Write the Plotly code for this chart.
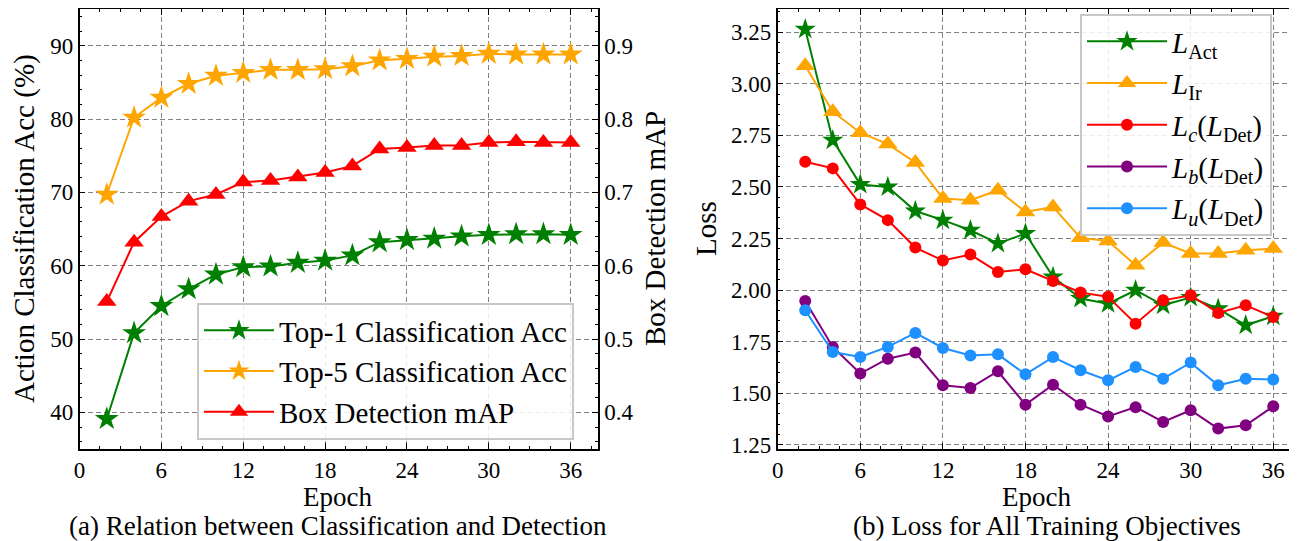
import plotly.graph_objects as go

# ---------------- data ----------------
epochs = [2, 4, 6, 8, 10, 12, 14, 16, 18, 20, 22, 24, 26, 28, 30, 32, 34, 36]

top1_acc = [39.1, 50.8, 54.5, 56.8, 58.8, 59.8, 59.9, 60.4, 60.7, 61.4,
            63.2, 63.5, 63.7, 64.0, 64.2, 64.3, 64.3, 64.2]
top5_acc = [69.7, 80.2, 82.9, 84.8, 85.9, 86.3, 86.7, 86.7, 86.8, 87.2,
            88.0, 88.2, 88.5, 88.6, 88.9, 88.8, 88.8, 88.8]
box_map = [0.551, 0.632, 0.667, 0.688, 0.697, 0.714, 0.716, 0.721, 0.727, 0.736,
           0.759, 0.761, 0.764, 0.764, 0.768, 0.769, 0.768, 0.768]

loss_act = [3.265, 2.727, 2.512, 2.500, 2.383, 2.339, 2.290, 2.226, 2.274, 2.064,
            1.959, 1.934, 1.999, 1.926, 1.964, 1.910, 1.829, 1.873]
loss_ir = [3.088, 2.865, 2.763, 2.708, 2.619, 2.444, 2.436, 2.484, 2.379, 2.403,
           2.253, 2.238, 2.120, 2.230, 2.177, 2.177, 2.193, 2.201]
loss_c = [2.622, 2.590, 2.415, 2.339, 2.206, 2.143, 2.172, 2.088, 2.101, 2.044,
          1.988, 1.967, 1.837, 1.950, 1.975, 1.889, 1.926, 1.869]
loss_b = [1.947, 1.724, 1.595, 1.667, 1.697, 1.538, 1.525, 1.606, 1.444, 1.541,
          1.444, 1.387, 1.432, 1.360, 1.417, 1.328, 1.344, 1.436]
loss_u = [1.902, 1.699, 1.675, 1.724, 1.792, 1.719, 1.683, 1.688, 1.591, 1.675,
          1.611, 1.562, 1.627, 1.570, 1.648, 1.538, 1.570, 1.566]

x_ticks = [0, 6, 12, 18, 24, 30, 36]
acc_ticks = [40, 50, 60, 70, 80, 90]
map_ticks = [0.4, 0.5, 0.6, 0.7, 0.8, 0.9]
loss_ticks = [1.25, 1.50, 1.75, 2.00, 2.25, 2.50, 2.75, 3.00, 3.25]

# ---------------- style ----------------
OFF = 8                      # page body margin
W, H = 1297 - OFF, 541 - OFF
FONT = "Liberation Serif"
TICK_FS = 23
TXT_FS = 29
BOTTOM_FS = 27
GREEN, ORANGE, RED, PURPLE, BLUE = "#008000", "#FFA500", "#FF0000", "#800080", "#1E90FF"
GRID = "#808080"

def px(x):
    return (x - OFF) / W

def py(y):
    return 1 - (y - OFF) / H

fig = go.Figure()

# left panel
fig.add_trace(go.Scatter(x=epochs, y=top1_acc, name="Top-1 Classification Acc",
                         mode="lines+markers", line=dict(color=GREEN, width=2),
                         marker=dict(symbol="star", size=18, color=GREEN),
                         xaxis="x", yaxis="y", legend="legend", legendgroup="a1"))
fig.add_trace(go.Scatter(x=epochs, y=top5_acc, name="Top-5 Classification Acc",
                         mode="lines+markers", line=dict(color=ORANGE, width=2),
                         marker=dict(symbol="star", size=18, color=ORANGE),
                         xaxis="x", yaxis="y", legend="legend", legendgroup="a2"))
fig.add_trace(go.Scatter(x=epochs, y=box_map, name="Box Detection mAP",
                         mode="lines+markers", line=dict(color=RED, width=2),
                         marker=dict(symbol="triangle-up", size=17, color=RED),
                         xaxis="x", yaxis="y2", legend="legend", legendgroup="a3"))

# right panel
fig.add_trace(go.Scatter(x=epochs, y=loss_act, name="<i>L</i><sub>Act</sub>",
                         mode="lines+markers", line=dict(color=GREEN, width=2),
                         marker=dict(symbol="star", size=16, color=GREEN),
                         xaxis="x2", yaxis="y3", legend="legend2", legendgroup="b1"))
fig.add_trace(go.Scatter(x=epochs, y=loss_ir, name="<i>L</i><sub>Ir</sub>",
                         mode="lines+markers", line=dict(color=ORANGE, width=2),
                         marker=dict(symbol="triangle-up", size=17, color=ORANGE),
                         xaxis="x2", yaxis="y3", legend="legend2", legendgroup="b2"))
fig.add_trace(go.Scatter(x=epochs, y=loss_c, name="<i>L<sub>c</sub></i>(<i>L</i><sub>Det</sub>)",
                         mode="lines+markers", line=dict(color=RED, width=2),
                         marker=dict(symbol="circle", size=12, color=RED),
                         xaxis="x2", yaxis="y3", legend="legend2", legendgroup="b3"))
fig.add_trace(go.Scatter(x=epochs, y=loss_b, name="<i>L<sub>b</sub></i>(<i>L</i><sub>Det</sub>)",
                         mode="lines+markers", line=dict(color=PURPLE, width=2),
                         marker=dict(symbol="circle", size=12, color=PURPLE),
                         xaxis="x2", yaxis="y3", legend="legend2", legendgroup="b4"))
fig.add_trace(go.Scatter(x=epochs, y=loss_u, name="<i>L<sub>u</sub></i>(<i>L</i><sub>Det</sub>)",
                         mode="lines+markers", line=dict(color=BLUE, width=2),
                         marker=dict(symbol="circle", size=12, color=BLUE),
                         xaxis="x2", yaxis="y3", legend="legend2", legendgroup="b5"))

tickfont = dict(family=FONT, size=TICK_FS, color="black")
common = dict(ticks="inside", ticklen=6, tickwidth=1.2, tickcolor="black",
              showline=True, linecolor="black", linewidth=1.5, zeroline=False,
              tickfont=tickfont, automargin=False)
grid = dict(showgrid=True, gridcolor=GRID, griddash="5px,3px", gridwidth=1)

def minor(d):
    return dict(dtick=d, tick0=0, ticks="inside", ticklen=3, tickcolor="black",
                tickwidth=1, showgrid=False)

LEFT_DOM = [px(79.5), px(598)]
RIGHT_DOM = [px(777.7), px(1295)]
Y_DOM = [py(449), py(9)]

fig.update_layout(
    width=W, height=H,
    margin=dict(l=0, r=0, t=0, b=0),
    paper_bgcolor="white", plot_bgcolor="white",
    font=dict(family=FONT, size=TXT_FS, color="black"),
    xaxis=dict(domain=LEFT_DOM, range=[0, 38], tickvals=x_ticks, mirror="ticks",
               anchor="y", minor=minor(1.5), **common, **grid),
    xaxis2=dict(domain=RIGHT_DOM, range=[0, 37.58], tickvals=x_ticks, mirror="ticks",
                anchor="y3", minor=minor(1.5), **common, **grid),
    yaxis=dict(domain=Y_DOM, range=[35, 95], tickvals=acc_ticks, mirror=False,
               anchor="x", minor=minor(2), **common, **grid),
    yaxis2=dict(range=[0.35, 0.95], tickvals=map_ticks, tickformat=".1f",
                overlaying="y", side="right", anchor="x", showgrid=False,
                minor=minor(0.02), **common),
    yaxis3=dict(domain=Y_DOM, range=[1.229, 3.363], tickvals=loss_ticks,
                tickformat=".2f", mirror="ticks", anchor="x2", minor=minor(0.05),
                **common, **grid),
    legend=dict(x=px(197), y=py(303), xanchor="left", yanchor="top",
                bgcolor="rgba(255,255,255,0.85)", bordercolor="#c8c8c8",
                borderwidth=2, font=dict(family=FONT, size=TXT_FS),
                traceorder="grouped", tracegroupgap=0, itemwidth=70),
    legend2=dict(x=px(1080), y=py(14), xanchor="left", yanchor="top",
                 bgcolor="rgba(255,255,255,0.85)", bordercolor="#c8c8c8",
                 borderwidth=2, font=dict(family=FONT, size=TXT_FS),
                 traceorder="grouped", tracegroupgap=1, itemwidth=80),
    showlegend=True,
)

ann = dict(showarrow=False, xref="paper", yref="paper",
           font=dict(family=FONT, size=TXT_FS, color="black"))
bottom_font = dict(family=FONT, size=BOTTOM_FS, color="black")
annotations = [
    dict(text="Action Classification Acc (%)", x=px(25), y=py(229), textangle=-90,
         xanchor="center", yanchor="middle"),
    dict(text="Box Detection mAP", x=px(655), y=py(229), textangle=-90,
         xanchor="center", yanchor="middle"),
    dict(text="Loss", x=px(706), y=py(229), textangle=-90,
         xanchor="center", yanchor="middle"),
    dict(text="Epoch", x=px(338), y=py(496.5), xanchor="center", yanchor="middle",
         font=bottom_font),
    dict(text="Epoch", x=px(1036), y=py(496.5), xanchor="center", yanchor="middle",
         font=bottom_font),
    dict(text="(a) Relation between Classification and Detection", x=px(338),
         y=py(525.5), xanchor="center", yanchor="middle", font=bottom_font),
    dict(text="(b) Loss for All Training Objectives", x=px(1047),
         y=py(525.5), xanchor="center", yanchor="middle", font=bottom_font),
]
fig.update_layout(annotations=[ann | a for a in annotations])

fig.write_html("out.html")
